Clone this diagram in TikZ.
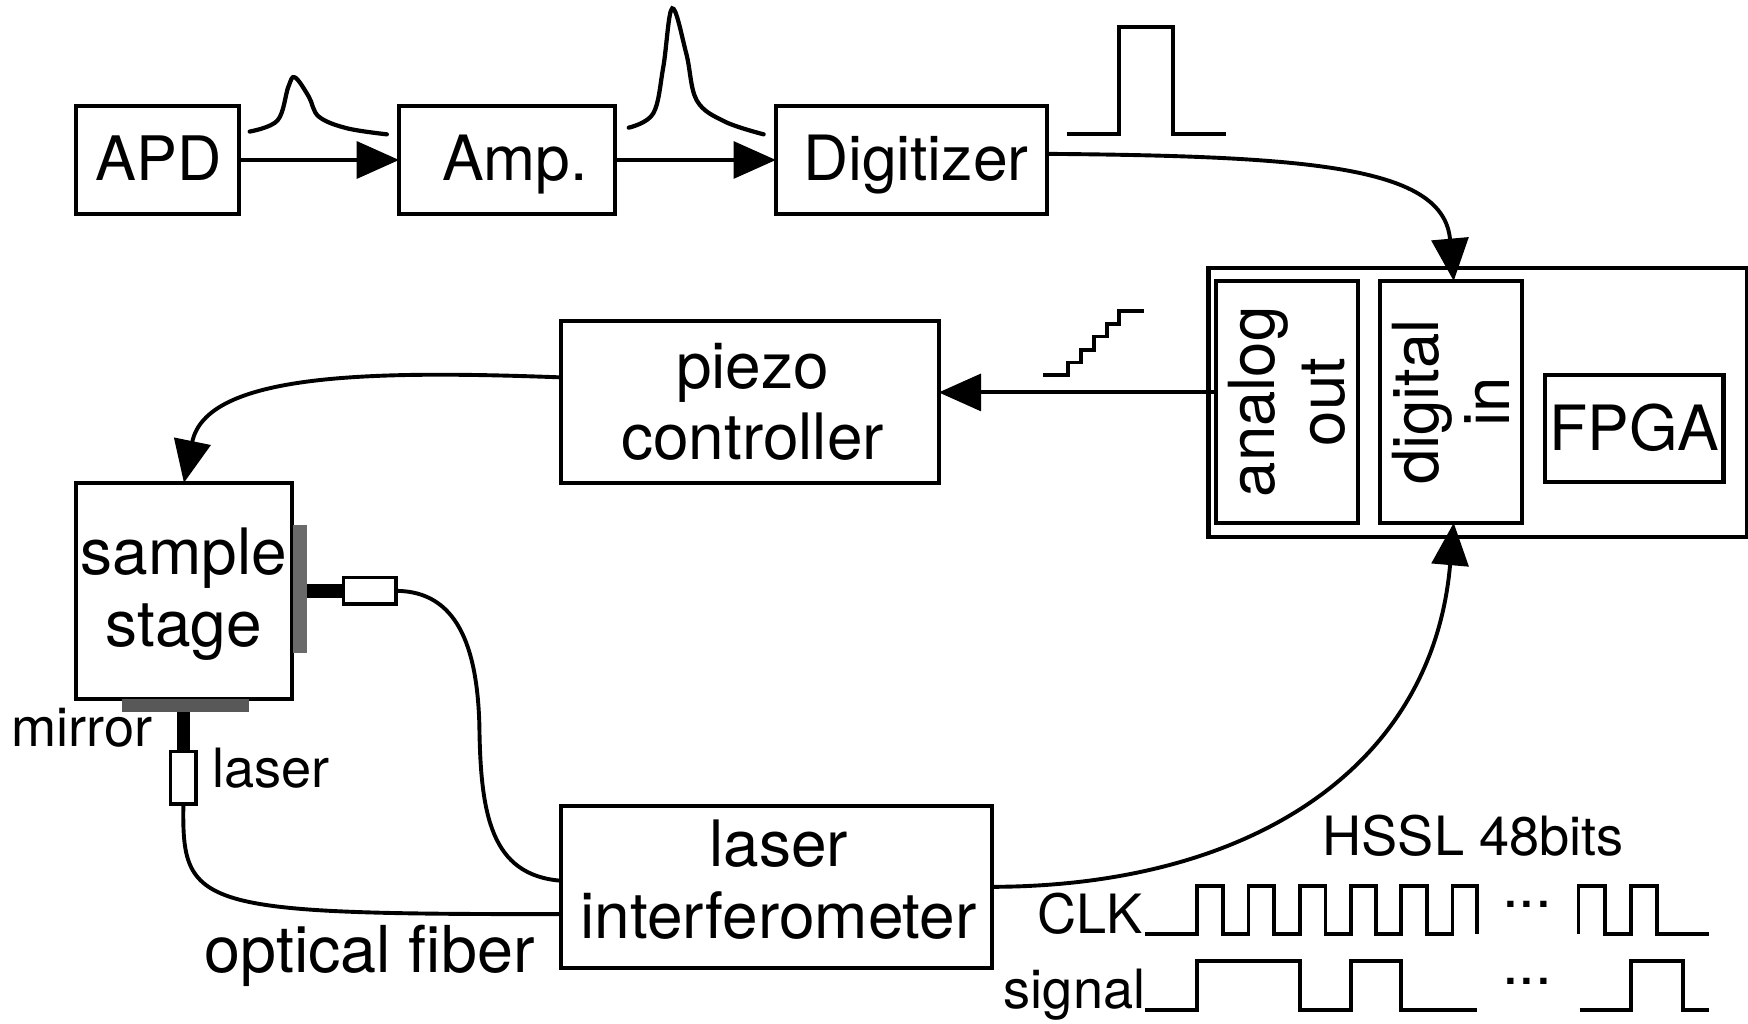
\documentclass[tikz,border=0pt]{standalone}
\usepackage{fontspec}
\setmainfont{TeX Gyre Heros}
\usetikzlibrary{arrows.meta, positioning, calc}
\definecolor{sidegray}{HTML}{6A6A6A}
\definecolor{bottomgray}{HTML}{585858}
\tikzset{
	every node/.style={
		align=center,
	},
	box/.style={draw, line width=1.85pt, inner sep=0pt, outer sep=0pt, font=\fontsize{28}{31.5}\selectfont},
	rowbox/.style={box, minimum height=48.5pt, text height=18.5pt, text depth=0pt},
	tallbox/.style={box, font=\fontsize{28.7}{32}\selectfont, text depth=0pt},
	turned/.style={box, rotate=90, minimum width=108.5pt, minimum height=63.5pt, font=\fontsize{28.5}{31.5}\selectfont},
	probe/.style={draw, line width=1.6pt, fill=white, inner sep=0pt, outer sep=0pt},
	note/.style={inner sep=0pt, anchor=base west, font=\fontsize{24.3}{28}\selectfont},
	wire/.style={line width=1.75pt},
	feed/.style={wire, -{Triangle[length=19pt,width=16.5pt]}},
	wave/.style={line width=1.7pt},
	pulse/.style={line width=1.9pt, line cap=round},
	stub/.style={line width=6pt},
}
\begin{document}
\begin{tikzpicture}[x=0.5pt,y=-0.5pt]
    \useasboundingbox (0,0) rectangle (1568,918);

    % top row
    \node (apd) [rowbox, minimum width=73pt, font=\fontsize{27.5}{31.5}\selectfont] at (141,143.5) {\hspace{1.5pt}APD};
    \node (amp) [rowbox, minimum width=97pt, right=72pt of apd] {\hspace{7pt}Amp.};
    \node (dig) [rowbox, minimum width=121.5pt, right=72pt of amp] {\hspace{4pt}Digitizer};

    % fpga
    \node (fpga) [box, minimum width=241.5pt, minimum height=121pt] at (1325.5,361) {};
    \node (aout) [turned] at (1154.5,360.5) {analog\\out};
    \node (dgin) [turned] at (1301.5,360.5) {digital\\in};
    \node (core) [box, minimum width=80pt, minimum height=48pt] at (1466,384) {FPGA};

    % stage and controllers
    \node (piezo) [tallbox, minimum width=169.5pt, minimum height=72.5pt, text height=52pt] at (672.5,360.5) {\hspace{2.5pt}piezo\\\hspace{2.5pt}controller};
    \node (stage) [tallbox, minimum width=97pt, minimum height=97pt, text height=49.5pt] at (165,530) {sample\\stage};
    \node (intf) [tallbox, minimum width=193.5pt, minimum height=72.5pt, text height=46pt] at (696.5,795.5) {\hspace{2pt}laser\\\hspace{2pt}interferometer};

    % mirrors and fiber heads
    \node (sidemir) [fill=sidegray, inner sep=0pt, outer sep=0pt, minimum width=6pt, minimum height=57.5pt] at (269,528.5) {};
    \node (botmir) [fill=bottomgray, inner sep=0pt, outer sep=0pt, minimum width=57pt, minimum height=6pt] at (166,633) {};
    \node (headh) [probe, minimum width=23.5pt, minimum height=12pt] at (331.5,530) {};
    \node (headv) [probe, minimum width=11.5pt, minimum height=23.5pt] at (164.5,697.5) {};

    \draw [stub] (headh.west) -- (headh.west -| sidemir.east);
    \draw [stub] (headv.north) -- (headv.north |- botmir.south);

    % labels
    \node (mirlab) [note] at (10,670) {mirror};
    \node (laslab) [note] at (190,706) {laser};
    \node (fiblab) [note, font=\fontsize{29}{32}\selectfont] at (183,872) {optical fiber};
    \node (hssl) [note] at (1186,767) {HSSL 48bits};
    \node (clklab) [note] at (930,837) {CLK};
    \node (siglab) [note] at (900,905) {signal};
    \node (dotsa) [note, font=\fontsize{27}{28}\selectfont] at (1347,814) {...};
    \node (dotsb) [note, font=\fontsize{27}{28}\selectfont] at (1347,883) {...};

    % connectors
    \draw [feed] (apd.east) -- (amp.west);
    \draw [feed] (amp.east) -- (dig.west);
    \draw [feed] ([yshift=2.75pt]dig.east) .. controls (1180,140) and (1295,150) .. ([xshift=1.25pt]dgin.east);
    \draw [feed] ([yshift=4.25pt]aout.north) -- ([yshift=4.25pt]piezo.east);
    \draw [feed] ([yshift=11pt]piezo.west) .. controls (330,332) and (185,335) .. (stage.north);
    \draw [feed] (intf.east) .. controls (1120,795) and (1285,690) .. ([xshift=1.25pt]dgin.west);
    \draw [wire] (headh.east) .. controls (410,530) and (428,580) .. (430,650) .. controls (431,730) and (440,785) .. ([yshift=2.75pt]intf.west);
    \draw [wire] (headv.south) .. controls (163,815) and (175,820) .. ([yshift=-12.25pt]intf.west);

    % signal shapes
    \draw [pulse] plot [smooth, tension=0.6] coordinates {(224,118) (249,108) (258.6,78) (264.6,69.4) (277,86.7) (286,104.6) (311,115) (347,120.5)};
    \draw [pulse] plot [smooth, tension=0.6] coordinates {(564,114.5) (586,101.7) (595,60) (603,7.5) (615.6,48) (625,90) (650,109) (685,120.5)};
    \draw [wave] (957,120) -- (1004,120) -- (1004,24) -- (1052,24) -- (1052,120) -- (1100,120);
    \draw [wave] (936,336.4) -- (958,336.4) -- (958,325.2) -- (970,325.2) -- (970,314) -- (981,314) -- (981,301.8) -- (993,301.8) -- (993,290.6) -- (1004,290.6) -- (1004,278.7) -- (1026,278.7);

    % clk
    \draw [wave] (1027.5,838) -- (1074,838) -- (1074,795) -- (1097,795) -- (1097,838) -- (1120,838) -- (1120,795) -- (1143,795) -- (1143,838) -- (1166,838) -- (1166,795) -- (1189,795) -- (1189,838) -- (1212,838) -- (1212,795) -- (1234,795) -- (1234,838) -- (1257,838) -- (1257,795) -- (1280,795) -- (1280,838) -- (1303,838) -- (1303,795) -- (1325,795) -- (1325,838);
    \draw [wave] (1416,838) -- (1416,795) -- (1440,795) -- (1440,838) -- (1463,838) -- (1463,795) -- (1486,795) -- (1486,838) -- (1533,838);
    % signal
    \draw [wave] (1027.5,906) -- (1074,906) -- (1074,862) -- (1166,862) -- (1166,906) -- (1212,906) -- (1212,862) -- (1257,862) -- (1257,906) -- (1325,906);
    \draw [wave] (1417,906) -- (1463,906) -- (1463,862) -- (1510,862) -- (1510,906) -- (1533,906);
\end{tikzpicture}
\end{document}
